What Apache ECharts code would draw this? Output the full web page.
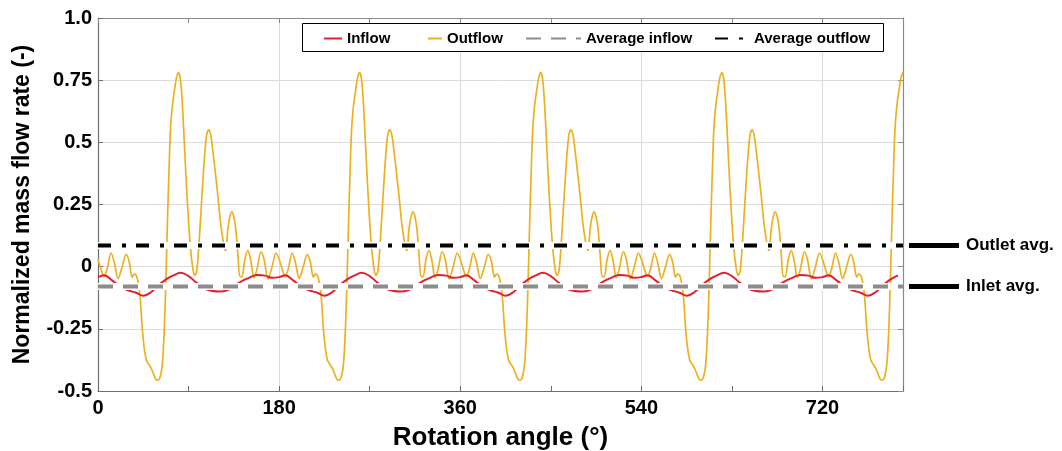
<!DOCTYPE html>
<html>
<head>
<meta charset="utf-8">
<script src="https://cdn.jsdelivr.net/npm/echarts@6/dist/echarts.min.js"></script>
<style>
  html, body { margin: 0; padding: 0; background: #ffffff; }
  #chart { width: 1062px; height: 451px; }
</style>
</head>
<body>
<div id="chart"></div>
<script>
// Normalized mass flow rate over rotation angle; the flow repeats every 180°
const cycleLength = 180;
const angleMin = 0;
const angleMax = 800;

// One cycle of the outflow (angle within cycle, normalized value)
const outflowAngles = [0, 3, 6, 9, 13, 16, 20, 24, 28, 31, 34, 36, 38, 40, 42, 44, 46, 48, 50, 53, 56, 58, 60, 62, 64, 66, 67.5, 69, 70.5, 72, 74, 76, 78, 80, 82, 84, 86, 88, 90, 92, 94, 96, 98, 100, 102, 104, 106, 108, 110, 112, 114, 116, 119, 122, 125, 127, 129, 131, 133, 135, 137, 139, 141, 143, 146, 149, 152, 155, 158, 162, 165, 169, 173, 177];
const outflowValues = [0.03, -0.01, -0.04, -0.01, 0.055, 0.02, -0.048, 0.0, 0.05, 0.02, -0.042, -0.03, -0.035, -0.065, -0.13, -0.25, -0.33, -0.375, -0.39, -0.41, -0.44, -0.455, -0.455, -0.44, -0.39, -0.24, -0.05, 0.18, 0.38, 0.55, 0.65, 0.71, 0.76, 0.78, 0.75, 0.64, 0.48, 0.32, 0.18, 0.07, 0.0, -0.035, -0.02, 0.07, 0.2, 0.33, 0.45, 0.53, 0.55, 0.53, 0.47, 0.4, 0.29, 0.17, 0.09, 0.065, 0.15, 0.2, 0.22, 0.2, 0.15, 0.05, -0.04, -0.04, 0.03, 0.065, 0.02, -0.045, -0.01, 0.06, 0.03, -0.05, 0.0, 0.055];

// One cycle of the inflow
const inflowAngles = [0, 6, 14, 22, 30, 38, 45, 52, 60, 68, 75, 82, 90, 98, 106, 114, 121, 128, 135, 142, 150, 158, 166, 173];
const inflowValues = [-0.042, -0.035, -0.055, -0.08, -0.095, -0.105, -0.117, -0.105, -0.075, -0.05, -0.035, -0.024, -0.038, -0.065, -0.088, -0.098, -0.1, -0.095, -0.078, -0.06, -0.045, -0.034, -0.036, -0.045];

// Cycle averages
const averageInflow = -0.08;
const averageOutflow = 0.085;

// Axis tick labels
const xTickLabels = ['0', '180', '360', '540', '720'];
const yTickLabels = ['-0.5', '-0.25', '0', '0.25', '0.5', '0.75', '1.0'];

const seriesNames = ['Inflow', 'Outflow', 'Average inflow', 'Average outflow'];

function repeatCycle(angles, values) {
  const pts = [];
  for (let k = 0; k * cycleLength <= angleMax; k++) {
    for (let i = 0; i < angles.length; i++) {
      const x = angles[i] + k * cycleLength;
      if (x <= angleMax) pts.push([x, values[i]]);
    }
  }
  return pts;
}

const FONT = '"Liberation Sans", Arial, Helvetica, sans-serif';
const yMin = -0.5, yMax = 1.0, yStep = 0.25;

const chart = echarts.init(document.getElementById('chart'), null, { renderer: 'canvas' });

const gridBox = { left: 98, right: 159, top: 18, bottom: 60, outerBoundsMode: 'none', containLabel: false };

const flatLine = v => [[angleMin, v], [angleMax, v]];

function legendAt(name, left, width) {
  return {
    data: [name], left: left, top: 31, padding: 0,
    itemWidth: width, itemHeight: 12, itemGap: 0, z: 5,
    selectedMode: false,
    itemStyle: { opacity: 0 },
    textStyle: { fontFamily: FONT, fontWeight: 'bold', fontSize: 15, color: '#000' }
  };
}

chart.setOption({
  animation: false,
  backgroundColor: '#ffffff',
  grid: gridBox,
  legend: [
    legendAt(seriesNames[0], 323, 18),
    legendAt(seriesNames[1], 427, 14),
    legendAt(seriesNames[2], 525, 55),
    legendAt(seriesNames[3], 714, 34)
  ],
  xAxis: [
    {
      type: 'value', min: angleMin, max: angleMax, interval: 90, position: 'bottom',
      name: 'Rotation angle (°)', nameLocation: 'middle', nameGap: 34,
      nameTextStyle: { fontFamily: FONT, fontWeight: 'bold', fontSize: 26, color: '#000' },
      axisLine: { show: true, onZero: false, lineStyle: { color: '#6e6e6e', width: 1.2 } },
      axisTick: { show: true, inside: true, length: 5, lineStyle: { color: '#6e6e6e' } },
      axisLabel: {
        margin: 7, fontFamily: FONT, fontWeight: 'bold', fontSize: 20, color: '#000',
        formatter: v => xTickLabels.indexOf(String(v)) >= 0 ? String(v) : ''
      },
      splitLine: { show: false }
    },
    {
      type: 'value', min: angleMin, max: angleMax, interval: 90, position: 'top',
      axisLine: { show: true, onZero: false, lineStyle: { color: '#8a8a8a', width: 1.2 } },
      axisTick: { show: true, inside: true, length: 5, lineStyle: { color: '#8a8a8a' } },
      axisLabel: { show: false },
      splitLine: { show: false }
    },
    {
      type: 'value', min: angleMin, max: angleMax, interval: cycleLength, position: 'bottom',
      axisLine: { show: false, onZero: false }, axisTick: { show: false }, axisLabel: { show: false },
      splitLine: { show: true, lineStyle: { color: '#dcdcdc', width: 1 } }
    }
  ],
  yAxis: [
    {
      type: 'value', min: yMin, max: yMax, interval: yStep, position: 'left',
      name: 'Normalized mass flow rate (-)', nameLocation: 'middle', nameGap: 64,
      nameTextStyle: { fontFamily: FONT, fontWeight: 'bold', fontSize: 23, color: '#000' },
      axisLine: { show: true, onZero: false, lineStyle: { color: '#6e6e6e', width: 1.2 } },
      axisTick: { show: true, inside: true, length: 5, lineStyle: { color: '#6e6e6e' } },
      axisLabel: {
        margin: 6, fontFamily: FONT, fontWeight: 'bold', fontSize: 20, color: '#000',
        formatter: v => {
          const i = Math.round((v - yMin) / yStep);
          return yTickLabels[i] !== undefined ? yTickLabels[i] : '';
        }
      },
      splitLine: { show: true, lineStyle: { color: '#dcdcdc', width: 1 } }
    },
    {
      type: 'value', min: yMin, max: yMax, interval: yStep, position: 'right',
      axisLine: { show: true, onZero: false, lineStyle: { color: '#8a8a8a', width: 1.2 } },
      axisTick: { show: true, inside: true, length: 5, lineStyle: { color: '#8a8a8a' } },
      axisLabel: { show: false },
      splitLine: { show: false }
    }
  ],
  series: [
    {
      name: seriesNames[1], type: 'line', data: repeatCycle(outflowAngles, outflowValues),
      showSymbol: false, symbol: 'none', smooth: 0.3, z: 2,
      lineStyle: { color: '#EDB120', width: 1.7 }, itemStyle: { color: '#EDB120' }
    },
    {
      name: seriesNames[0], type: 'line', data: repeatCycle(inflowAngles, inflowValues),
      showSymbol: false, symbol: 'none', smooth: 0.4, z: 3,
      lineStyle: { color: '#E0202E', width: 2 }, itemStyle: { color: '#E0202E' }
    },
    {
      name: 'inflow-backing', type: 'line', data: flatLine(averageInflow),
      showSymbol: false, symbol: 'none', z: 4, silent: true,
      lineStyle: { color: '#ffffff', width: 7 }
    },
    {
      name: 'outflow-backing', type: 'line', data: flatLine(averageOutflow),
      showSymbol: false, symbol: 'none', z: 4, silent: true,
      lineStyle: { color: '#ffffff', width: 7 }
    },
    {
      name: seriesNames[2], type: 'line', data: flatLine(averageInflow),
      showSymbol: false, symbol: 'none', z: 5,
      lineStyle: { color: '#8c8c8c', width: 4, type: [15, 10], cap: 'butt' },
      itemStyle: { color: '#8c8c8c' }
    },
    {
      name: seriesNames[3], type: 'line', data: flatLine(averageOutflow),
      showSymbol: false, symbol: 'none', z: 5,
      lineStyle: { color: '#000000', width: 4, type: [13, 11, 4, 10], cap: 'butt' },
      itemStyle: { color: '#000000' }
    }
  ]
});

// Legend frame and the labelled pointers to the two average levels
const plotRight = 1062 - gridBox.right;
const yOut = chart.convertToPixel({ yAxisIndex: 0 }, averageOutflow);
const yIn = chart.convertToPixel({ yAxisIndex: 0 }, averageInflow);

function pointer(y, label) {
  return [
    { type: 'line', z: 6, shape: { x1: plotRight + 6, y1: y, x2: plotRight + 56, y2: y },
      style: { stroke: '#000', lineWidth: 5 } },
    { type: 'text', z: 6, x: plotRight + 63, y: y,
      style: { text: label, fill: '#000', font: 'bold 17px ' + FONT, textVerticalAlign: 'middle', verticalAlign: 'middle' } }
  ];
}

chart.setOption({
  graphic: [
    { type: 'rect', z: 4, shape: { x: 302.5, y: 23.5, width: 581, height: 28 },
      style: { fill: '#ffffff', stroke: '#000000', lineWidth: 1 } }
  ].concat(pointer(yOut, 'Outlet avg.'), pointer(yIn, 'Inlet avg.'))
});
</script>
</body>
</html>
